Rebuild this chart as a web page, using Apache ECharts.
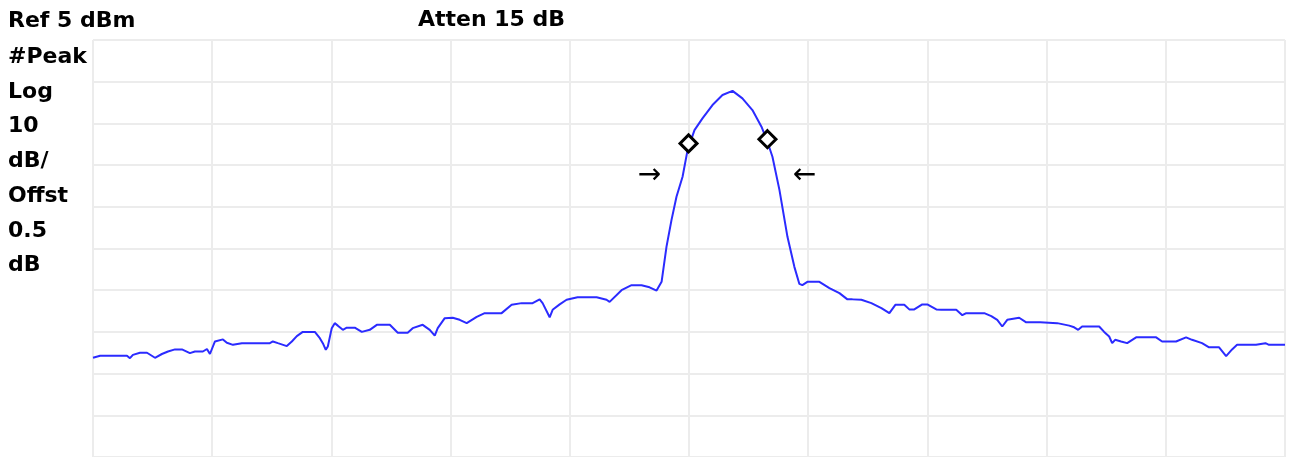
<!DOCTYPE html>
<html>
<head>
<meta charset="utf-8">
<title>Spectrum trace</title>
<script src="https://cdn.jsdelivr.net/npm/echarts@6/dist/echarts.min.js"></script>
<style>
  html, body { margin: 0; padding: 0; background: #fff; }
  #chart { width: 1290px; height: 457px; }
</style>
</head>
<body>
<div id="chart"></div>
<script>
// horizontal position in screen divisions (0..10), level in dBm
var traceX = [
  0, 0.06, 0.285, 0.31, 0.335, 0.394, 0.453, 0.52, 0.578, 0.629, 0.688, 0.746, 0.813, 0.855, 0.922, 0.956, 0.981,
  1.023, 1.09, 1.123, 1.174, 1.249, 1.484, 1.509, 1.551, 1.626, 1.668, 1.71, 1.76, 1.861, 1.903, 1.928, 1.953, 1.97,
  2.003, 2.028, 2.054, 2.096, 2.129, 2.196, 2.255, 2.322, 2.381, 2.49, 2.557, 2.64, 2.682, 2.766, 2.825, 2.867, 2.892, 2.951,
  3.018, 3.076, 3.135, 3.219, 3.286, 3.428, 3.512, 3.596, 3.688, 3.747, 3.772, 3.831, 3.856, 3.915, 3.973,
  4.065, 4.225, 4.308, 4.334, 4.434, 4.518, 4.602, 4.669, 4.728, 4.77, 4.811, 4.853, 4.895, 4.946, 4.988,
  5.046, 5.113, 5.197, 5.281, 5.365, 5.448, 5.532, 5.608, 5.658, 5.7, 5.759, 5.826, 5.884, 5.926, 5.951, 5.993,
  6.094, 6.178, 6.262, 6.329, 6.371, 6.446, 6.53, 6.614, 6.681, 6.731, 6.806, 6.848, 6.89, 6.957, 6.999,
  7.075, 7.117, 7.242, 7.293, 7.326, 7.477, 7.536, 7.586, 7.628, 7.67, 7.77, 7.829, 7.946,
  8.089, 8.19, 8.231, 8.265, 8.298, 8.441, 8.483, 8.525, 8.55, 8.575, 8.625, 8.676, 8.751, 8.919, 8.969,
  9.086, 9.17, 9.22, 9.304, 9.363, 9.447, 9.506, 9.556, 9.598, 9.757, 9.836, 9.866, 10
];
var traceDbm = [
  -71.2, -70.7, -70.7, -71.3, -70.5, -70.0, -70.0, -71.2, -70.3, -69.7, -69.2, -69.2, -70.1, -69.7, -69.7, -69.1, -70.3,
  -67.3, -66.8, -67.6, -68.1, -67.7, -67.7, -67.3, -67.7, -68.4, -67.3, -66.0, -65.0, -65.0, -66.5, -67.7, -69.3, -68.5,
  -64.1, -62.9, -63.5, -64.5, -64.0, -64.0, -65.0, -64.5, -63.3, -63.3, -65.2, -65.2, -64.1, -63.3, -64.5, -65.9, -64.1, -61.7,
  -61.6, -62.1, -62.9, -61.4, -60.5, -60.5, -58.5, -58.1, -58.1, -57.2, -58.1, -61.5, -59.7, -58.4, -57.3,
  -56.7, -56.7, -57.3, -57.8, -55.0, -53.8, -53.8, -54.3, -55.1, -53.0, -44.6, -38.2, -32.6, -27.8, -21.4,
  -16.6, -13.8, -10.6, -8.2, -7.2, -9.0, -11.8, -15.8, -19.4, -23.0, -31.0, -42.2, -49.4, -53.5, -53.8, -53.0,
  -53.0, -54.5, -55.7, -57.2, -57.2, -57.3, -58.1, -59.3, -60.5, -58.5, -58.5, -59.6, -59.6, -58.4, -58.4,
  -59.6, -59.7, -59.7, -61.0, -60.5, -60.5, -61.2, -62.1, -63.7, -62.1, -61.6, -62.7, -62.7,
  -62.9, -63.5, -63.9, -64.5, -63.7, -63.7, -65.0, -66.1, -67.7, -66.9, -67.3, -67.7, -66.3, -66.3, -67.3,
  -67.3, -66.3, -66.9, -67.7, -68.7, -68.7, -70.8, -69.2, -68.1, -68.1, -67.7, -68.1, -68.1
];

// markers (diamonds) and bandwidth arrows
var markerX = [4.996, 5.658];
var markerDbm = [-19.8, -18.8];
var arrowX = [4.669, 5.968];
var arrowDbm = [-27.5, -27.5];
var arrowText = ['→', '←'];

var refLevel = 5;      // dBm, top of screen
var dbPerDiv = 10;
var divisions = 10;

var sideLabels = ['#Peak', 'Log', '10', 'dB/', 'Offst', '0.5', 'dB'];

var chart = echarts.init(document.getElementById('chart'));

var gridLine = { show: true, lineStyle: { color: '#ececec', width: 2 } };

var option = {
  animation: false,
  backgroundColor: '#fff',
  textStyle: { fontFamily: 'DejaVu Sans' },
  grid: { left: 93, top: 40, right: 5, bottom: 0, containLabel: false },
  xAxis: {
    type: 'value', min: 0, max: divisions, interval: 1,
    axisLine: { show: false }, axisTick: { show: false }, axisLabel: { show: false },
    splitLine: gridLine
  },
  yAxis: [
    {
      // level scale the trace is drawn on
      type: 'value', min: refLevel - dbPerDiv * divisions, max: refLevel,
      axisLine: { show: false }, axisTick: { show: false }, axisLabel: { show: false },
      splitLine: { show: false }
    },
    {
      // division scale just for the graticule
      type: 'value', min: 0, max: divisions, interval: 1, position: 'left',
      axisLine: { show: false }, axisTick: { show: false }, axisLabel: { show: false },
      splitLine: gridLine
    }
  ],
  graphic: [
    {
      type: 'text', left: 8, top: 10,
      style: { text: 'Ref 5 dBm', font: 'bold 22px "DejaVu Sans"', fill: '#000' }
    },
    {
      type: 'text', left: 418, top: 9,
      style: { text: 'Atten 15 dB', font: 'bold 22px "DejaVu Sans"', fill: '#000' }
    },
    {
      type: 'text', left: 8, top: 40,
      style: { text: sideLabels.join('\n'), font: 'bold 22px "DejaVu Sans"', lineHeight: 34.7, fill: '#000' }
    }
  ],
  series: [
    {
      type: 'line',
      yAxisIndex: 0,
      data: traceX.map(function (x, i) { return [x, traceDbm[i]]; }),
      showSymbol: false,
      lineStyle: { color: '#2b2bff', width: 2 },
      z: 3
    },
    {
      type: 'scatter',
      yAxisIndex: 0,
      data: markerX.map(function (x, i) { return [x, markerDbm[i]]; }),
      symbol: 'diamond',
      symbolSize: 17,
      itemStyle: { color: '#fff', borderColor: '#000', borderWidth: 3, opacity: 1 },
      z: 4
    },
    {
      type: 'scatter',
      yAxisIndex: 0,
      data: arrowX.map(function (x, i) { return [x, arrowDbm[i]]; }),
      symbolSize: 1,
      itemStyle: { color: 'rgba(0,0,0,0)', opacity: 1 },
      label: {
        show: true, position: 'inside',
        formatter: function (p) { return arrowText[p.dataIndex]; },
        fontFamily: 'DejaVu Sans', fontSize: 28, color: '#000'
      },
      z: 4
    }
  ]
};

chart.setOption(option);
</script>
</body>
</html>
